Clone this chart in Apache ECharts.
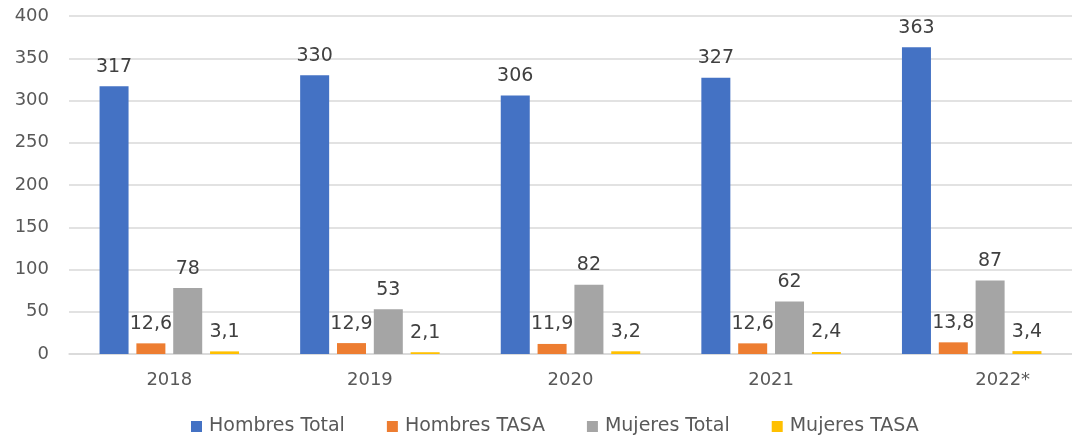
<!DOCTYPE html>
<html>
<head>
<meta charset="utf-8">
<script src="https://cdn.jsdelivr.net/npm/echarts@6/dist/echarts.min.js"></script>
<style>html,body{margin:0;padding:0;background:#fff}#c{width:1072px;height:436px}</style>
</head>
<body>
<div id="c"></div>
<script>
const categories = ['2018', '2019', '2020', '2021', '2022*'];
const hombresTotal = [317, 330, 306, 327, 363];
const hombresTasa = [12.6, 12.9, 11.9, 12.6, 13.8];
const mujeresTotal = [78, 53, 82, 62, 87];
const mujeresTasa = [3.1, 2.1, 3.2, 2.4, 3.4];
const seriesNames = ['Hombres Total', 'Hombres TASA', 'Mujeres Total', 'Mujeres TASA'];
const colors = ['#4472C4', '#ED7D31', '#A5A5A5', '#FFC000'];

const font = '"DejaVu Sans", "Open Sans", sans-serif';
const fmt = p => String(p.value).replace('.', ',');
function mk(name, data, color) {
  return {
    name, type: 'bar', data, barWidth: 29, barGap: '27%',
    itemStyle: { color },
    label: { show: true, position: 'top', distance: 10, formatter: fmt,
      color: '#404040', fontSize: 19, fontFamily: font }
  };
}
const chart = echarts.init(document.getElementById('c'));
chart.setOption({
  animation: false,
  grid: { left: 69, right: -7, top: 16, bottom: 82 },
  legend: {
    top: 412, left: 186, itemWidth: 11, itemHeight: 11, itemGap: 42,
    icon: 'rect',
    textStyle: { color: '#595959', fontSize: 19, fontFamily: font, padding: [0, 0, 0, 2] }
  },
  xAxis: {
    type: 'category', data: categories,
    axisLine: { lineStyle: { color: '#d9d9d9', width: 1.5 } },
    axisTick: { show: false },
    axisLabel: {
      color: '#595959', fontSize: 18, fontFamily: font, margin: 17,
      formatter: v => v === '2022*' ? '{off|' + v + '}' : v,
      rich: { off: { padding: [0, 0, 0, 62], fontSize: 18, fontFamily: font, color: '#595959' } }
    }
  },
  yAxis: {
    type: 'value', min: 0, max: 400, interval: 50,
    axisLine: { show: false }, axisTick: { show: false },
    splitLine: { lineStyle: { color: '#d9d9d9', width: 1.5 } },
    axisLabel: { color: '#595959', fontSize: 18, fontFamily: font, margin: 20 }
  },
  series: [
    mk(seriesNames[0], hombresTotal, colors[0]),
    mk(seriesNames[1], hombresTasa, colors[1]),
    mk(seriesNames[2], mujeresTotal, colors[2]),
    mk(seriesNames[3], mujeresTasa, colors[3])
  ]
});
</script>
</body>
</html>
